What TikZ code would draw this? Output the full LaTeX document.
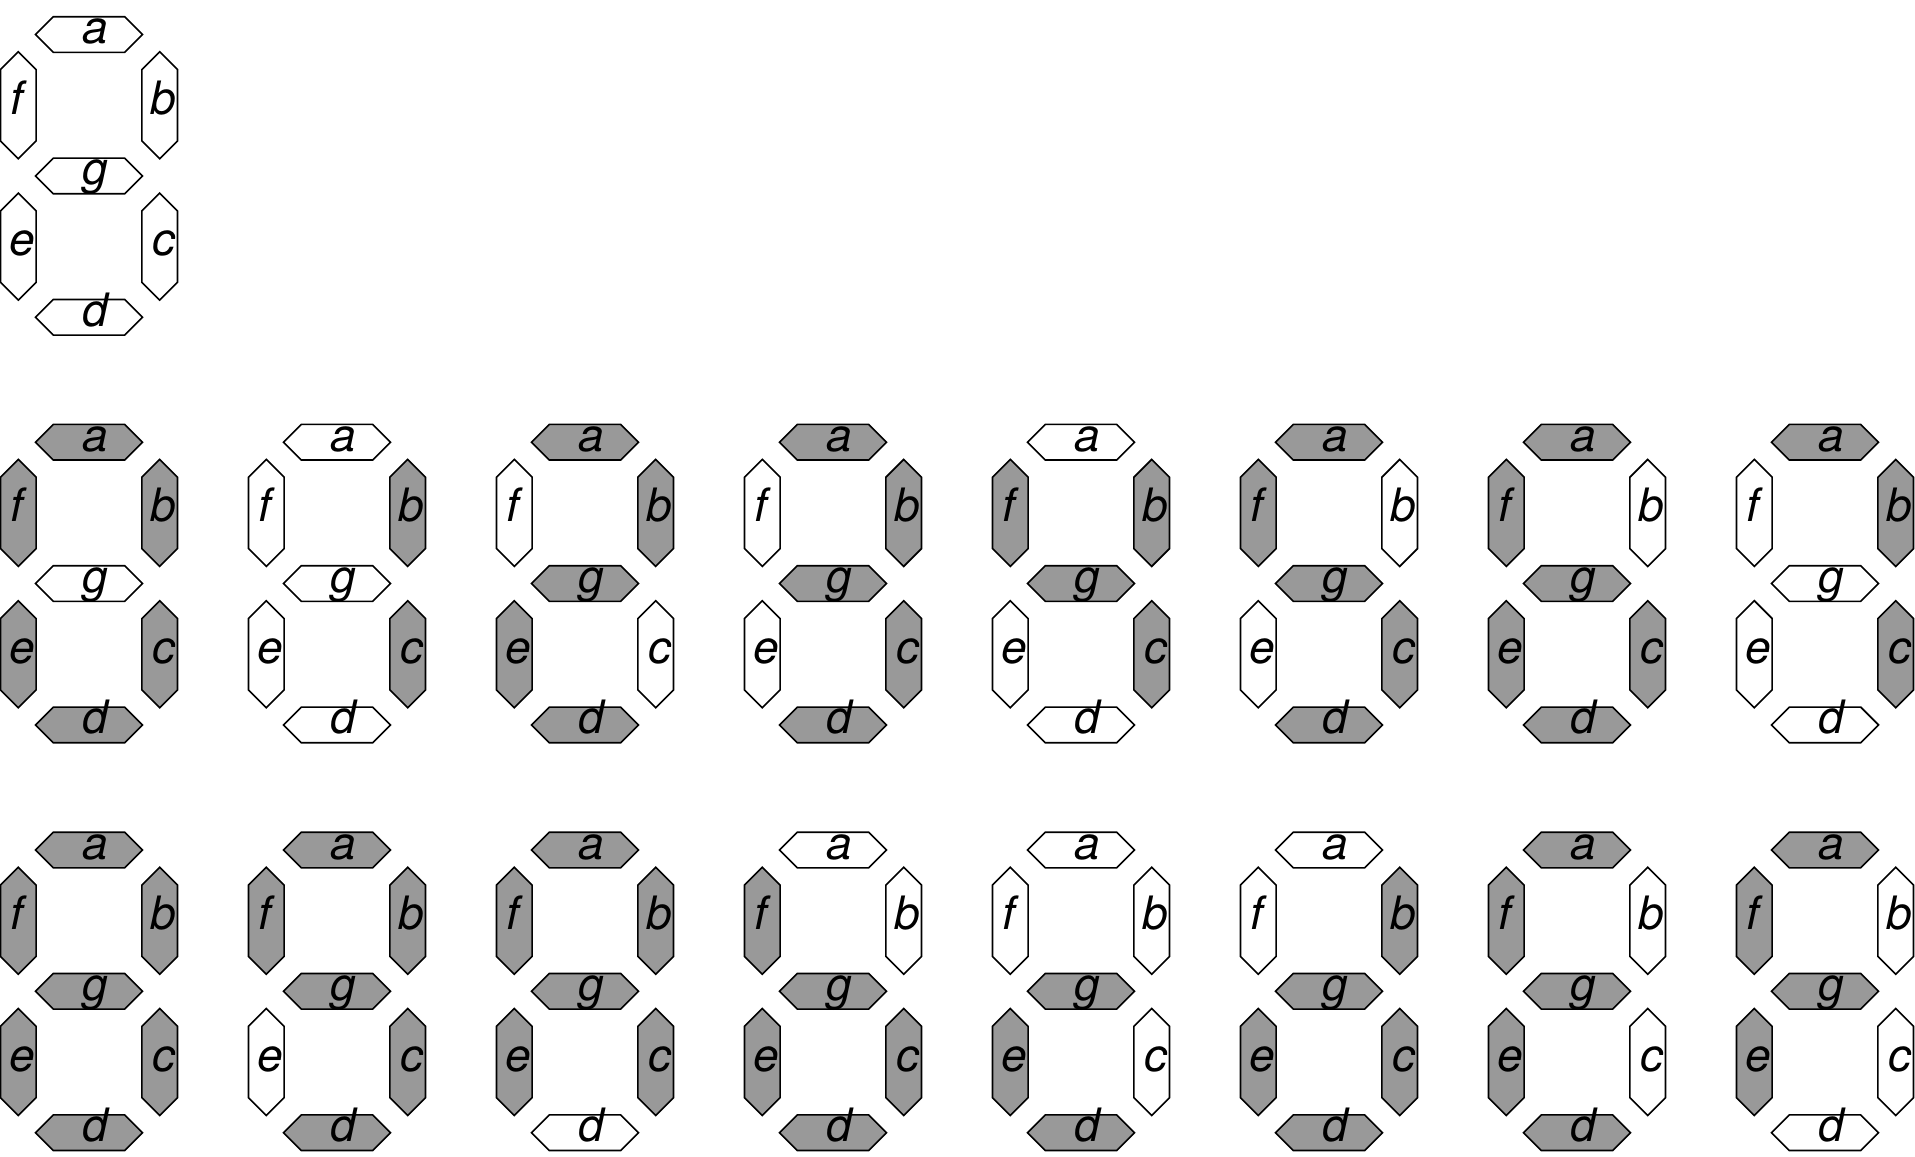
\documentclass[tikz,border=0pt]{standalone}
\usepackage{fontspec}
\setmainfont{TeX Gyre Heros}
\definecolor{segon}{RGB}{153,153,153}
\tikzset{
  segline/.style={draw=black, line width=0.8pt, line join=miter},
  st0/.style={fill=white},
  st1/.style={fill=segon},
  seglabel/.style={inner sep=0pt, anchor=base, font=\fontsize{23}{27}\selectfont\itshape},
}
% horizontal segment: name, x, y, state, letter, text shift
\newcommand\hseg[6]{%
  \path[segline, st#4] (#2-53.5,#3) -- (#2-35.7,#3-17.8) -- (#2+35.7,#3-17.8) -- (#2+53.5,#3) -- (#2+35.7,#3+17.8) -- (#2-35.7,#3+17.8) -- cycle;
  \node[seglabel] (#1) at (#2+#6,#3+9) {#5};
}
% vertical segment: name, x, y, state, letter, text shift
\newcommand\vseg[6]{%
  \path[segline, st#4] (#2,#3-53.5) -- (#2+17.8,#3-35.7) -- (#2+17.8,#3+35.7) -- (#2,#3+53.5) -- (#2-17.8,#3+35.7) -- (#2-17.8,#3-35.7) -- cycle;
  \node[seglabel] (#1) at (#2+#6,#3+9) {#5};
}
\newcommand\digit[4]{\def\did{#1}\def\dcx{#2}\def\day{#3}\digitbits#4\relax}
\def\digitbits#1#2#3#4#5#6#7\relax{%
  \hseg{\did a}{\dcx}{\day}{#1}{a}{6}
  \vseg{\did b}{\dcx+70.7}{\day+70.7}{#2}{b}{4}
  \vseg{\did c}{\dcx+70.7}{\day+212}{#3}{c}{4}
  \hseg{\did d}{\dcx}{\day+282.7}{#4}{d}{6}
  \vseg{\did e}{\dcx-70.7}{\day+212}{#5}{e}{4}
  \vseg{\did f}{\dcx-70.7}{\day+70.7}{#6}{f}{-1}
  \hseg{\did g}{\dcx}{\day+141.3}{#7}{g}{6}
}
\begin{document}
\begin{tikzpicture}[x=0.5pt,y=-0.5pt]
\useasboundingbox (0,0) rectangle (1915,1156);
% reference digit
\digit{ref}{89}{34.6}{0000000}
% row 2: 0-7
\digit{n0}{89}{442.2}{1111110}
\digit{n1}{337}{442.2}{0110000}
\digit{n2}{585}{442.2}{1101101}
\digit{n3}{833}{442.2}{1111001}
\digit{n4}{1081}{442.2}{0110011}
\digit{n5}{1329}{442.2}{1011011}
\digit{n6}{1577}{442.2}{1011111}
\digit{n7}{1825}{442.2}{1110000}
% row 3: 8-F
\digit{n8}{89}{850}{1111111}
\digit{n9}{337}{850}{1111011}
\digit{nA}{585}{850}{1110111}
\digit{nB}{833}{850}{0011111}
\digit{nC}{1081}{850}{0001101}
\digit{nD}{1329}{850}{0111101}
\digit{nE}{1577}{850}{1001111}
\digit{nF}{1825}{850}{1000111}
\end{tikzpicture}
\end{document}
